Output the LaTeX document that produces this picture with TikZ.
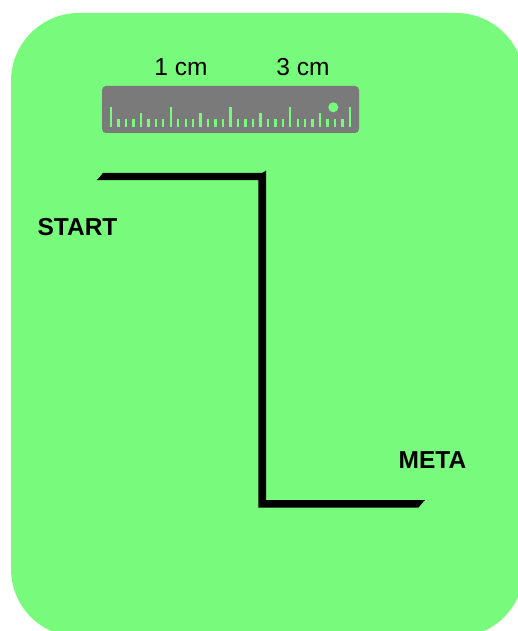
\documentclass[tikz,border=0pt]{standalone}
\usepackage{fontspec}
\setmainfont{Liberation Sans}
\definecolor{bg}{RGB}{120,251,124}
\definecolor{rul}{RGB}{122,122,122}
\begin{document}
\begin{tikzpicture}[x=1pt,y=-1pt,
  lbl/.style={font=\fontsize{24.5}{29}\selectfont, anchor=base, inner sep=0pt},
  blbl/.style={font=\fontsize{24.5}{29}\selectfont\bfseries, anchor=base, inner sep=0pt},
  tick/.style={draw=bg, line width=2.4pt},
  trackline/.style={fill=black}]
\useasboundingbox (0,0) rectangle (518,631);
\begin{scope}
\clip (0,0) rectangle (518,631);
\fill[bg, rounded corners=68pt] (11,13) rectangle (524,637);
\end{scope}
% ruler
\fill[rul, rounded corners=4pt] (102,86) rectangle (359,133);
\foreach \k in {0,...,32}{
  \pgfmathtruncatemacro\mm{mod(\k,8)}
  \pgfmathsetmacro\tickTop{\mm==0 ? 107 : (\mm==4 ? 113.3 : 118.7)}
  \draw[tick] ({111+7.47*\k},127.3) -- ({111+7.47*\k},\tickTop);
}
\fill[bg] (333.3,107.3) circle (5pt);
\node[lbl] (one) at (181,76) {1 cm};
\node[lbl] (three) at (303,76) {3 cm};
% track
\coordinate (s1) at (97,180);
\coordinate (s2) at (103,173);
\coordinate (c1) at (262,173);
\coordinate (c2) at (266,170.7);
\coordinate (c3) at (266,500);
\coordinate (e1) at (425,500);
\coordinate (e2) at (418.3,507.7);
\coordinate (c4) at (258.3,507.7);
\coordinate (c5) at (258.3,180);
\fill[trackline] (s1) -- (s2) -- (c1) -- (c2) -- (c3) -- (e1) -- (e2) -- (c4) -- (c5) -- cycle;
\node[blbl] (start) at (77.5,235) {START};
\node[blbl] (meta) at (432.5,468.3) {META};
\end{tikzpicture}
\end{document}
